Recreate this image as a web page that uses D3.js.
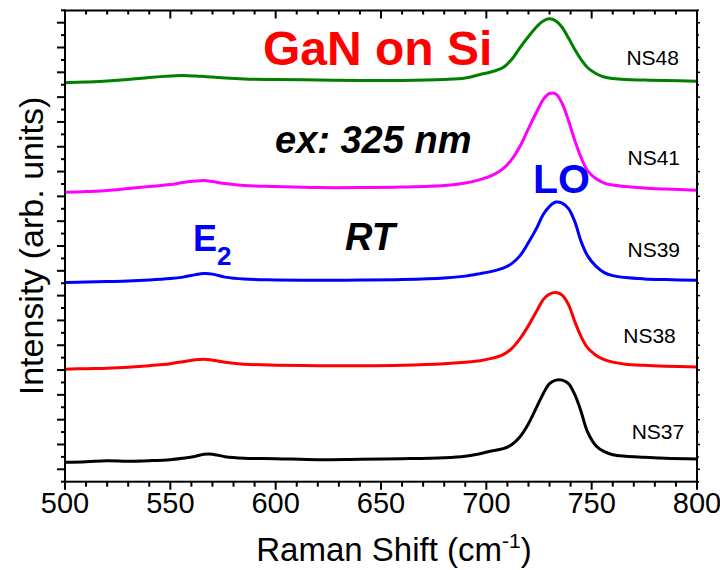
<!DOCTYPE html>
<html>
<head>
<meta charset="utf-8">
<script src="https://cdn.jsdelivr.net/npm/d3@7"></script>
<style>
  html, body { margin: 0; padding: 0; background: #fff; }
  svg { display: block; font-family: Arial, "Liberation Sans", sans-serif; }
</style>
</head>
<body>
<svg id="chart" width="720" height="570"></svg>
<script>
// Raman shift sampling grid (cm^-1)
const ramanShift = [500, 510, 520, 530, 540, 550, 556, 562, 566, 570, 576, 585, 600, 620, 640, 660, 680, 690, 697, 703,
                    708, 712, 716, 720, 724, 727, 730, 733, 736, 739, 742, 745, 748, 752, 756, 760, 766, 775, 785, 800];

// Offset-stacked intensities (arb. units), one array per sample
const ns48 = [398.7, 399.5, 400.5, 402, 404, 405.5, 406, 405.5, 405, 404.5, 403.5, 402.5, 402, 401.5, 401, 401, 402, 403.5, 407, 410,
              414, 422, 434, 445, 455, 460.5, 462.7, 460.5, 454, 443.5, 432, 422, 414, 408, 404.5, 403, 402, 401.5, 401, 400.3];
const ns41 = [289.3, 290, 291, 293, 295, 297, 299, 300.5, 301, 300, 298, 296, 295, 294, 294, 294.5, 296, 298.5, 302, 306.5,
              313, 322, 335.3, 353, 370, 382, 388, 387.5, 378, 361, 341, 324, 311, 303, 298.5, 296.5, 295, 293.5, 292.5, 291.3];
const ns39 = [199, 199.5, 200, 200.5, 201.5, 203, 204.5, 207, 208, 207.5, 204.5, 202.5, 201.7, 201.3, 201.5, 202, 203.5, 205.5, 208, 210.5,
              213.5, 218, 226, 239, 254, 267, 275.3, 279.5, 278.5, 273, 260, 240, 226, 215.5, 209, 206, 204, 202.7, 202, 201.3];
const ns38 = [112.5, 113, 113.5, 114.5, 116, 118, 120, 122, 122.5, 121.5, 119.5, 117.5, 116.5, 116, 116, 116.5, 118, 119.5, 121, 123.5,
              127, 133, 143, 156, 171, 182, 187.5, 189, 186.5, 177, 160, 145, 134, 126.5, 122, 119.5, 117.5, 116.3, 115.5, 114.7];
const ns37 = [19.5, 20, 21, 20.5, 21, 22, 23.5, 25.5, 27.5, 27.5, 25, 23.5, 23, 22, 22.5, 23, 24, 25.5, 28, 31,
              33, 37, 45, 58, 75, 88, 98, 101.5, 101.5, 98, 87, 70, 50, 36, 30, 27, 25.5, 24.5, 23.5, 22.7];

const sampleNames = ["NS48", "NS41", "NS39", "NS38", "NS37"];
const sampleSeries = [ns48, ns41, ns39, ns38, ns37];
const sampleColors = ["#007f00", "#ff00ff", "#0000ff", "#ff0000", "#000000"];
// Label anchor per sample: [Raman shift, intensity]
const labelPos = [[766.5, 417], [767, 317], [767, 225], [765, 139], [769, 43]];

const xTickValues = [500, 550, 600, 650, 700, 750, 800];

const svg = d3.select("#chart");
const margin = { left: 65, right: 23, top: 10.5, bottom: 88.3 };
const W = 720, H = 570;
const x = d3.scaleLinear().domain([500, 800]).range([margin.left, W - margin.right]);
const y = d3.scaleLinear().domain([0, 471]).range([H - margin.bottom, margin.top]);

const x0 = x.range()[0], x1 = x.range()[1];
const yB = y.range()[0], yT = y.range()[1];

// y ticks (no labels): alternating major / minor
const yMinor = d3.range(0, 472, 12.4);

const g = svg.append("g");

// bottom axis: major 50, minor 10
const xMinor = d3.range(500, 801, 10);
g.append("g").selectAll("line").data(xMinor).join("line")
  .attr("x1", d => x(d)).attr("x2", d => x(d))
  .attr("y1", yB).attr("y2", d => yB + (d % 50 === 0 ? 8 : 5))
  .attr("stroke", "#000").attr("stroke-width", 2);
// top axis: inward
g.append("g").selectAll("line").data(xMinor).join("line")
  .attr("x1", d => x(d)).attr("x2", d => x(d))
  .attr("y1", yT).attr("y2", d => yT + (d % 50 === 0 ? 8 : 4))
  .attr("stroke", "#000").attr("stroke-width", 2);
// left axis: outward
g.append("g").selectAll("line").data(yMinor).join("line")
  .attr("y1", d => y(d)).attr("y2", d => y(d))
  .attr("x1", x0).attr("x2", (d, i) => x0 - (i % 2 === 1 ? 8 : 4))
  .attr("stroke", "#000").attr("stroke-width", 2);
// right axis: small outward ticks
g.append("g").selectAll("line").data(yMinor).join("line")
  .attr("y1", d => y(d)).attr("y2", d => y(d))
  .attr("x1", x1).attr("x2", (d, i) => x1 + (i % 2 === 1 ? 3 : 2))
  .attr("stroke", "#000").attr("stroke-width", 1.5);

// x tick labels
g.append("g").selectAll("text").data(xTickValues).join("text")
  .attr("x", d => x(d)).attr("y", 513)
  .attr("text-anchor", "middle")
  .attr("font-size", 29)
  .text(d => d);

// spectra
const line = d3.line()
  .x((d, i) => x(ramanShift[i]))
  .y(d => y(d))
  .curve(d3.curveCatmullRom.alpha(0.5));

sampleSeries.forEach((s, k) => {
  svg.append("path")
    .attr("d", line(s))
    .attr("fill", "none")
    .attr("stroke", sampleColors[k])
    .attr("stroke-width", 3)
    .attr("stroke-linejoin", "round");
});

// frame
svg.append("rect")
  .attr("x", x0).attr("y", yT)
  .attr("width", x1 - x0).attr("height", yB - yT)
  .attr("fill", "none").attr("stroke", "#000").attr("stroke-width", 2);

// sample labels
svg.append("g").selectAll("text").data(sampleNames).join("text")
  .attr("x", (d, i) => x(labelPos[i][0]))
  .attr("y", (d, i) => y(labelPos[i][1]))
  .attr("font-size", 21)
  .text(d => d);

// annotations
svg.append("text").attr("x", 263).attr("y", 65)
  .attr("font-size", 48).attr("font-weight", "bold").attr("fill", "#ff0000")
  .text("GaN on Si");
svg.append("text").attr("x", 275).attr("y", 153)
  .attr("font-size", 38).attr("font-weight", "bold").attr("font-style", "italic")
  .text("ex: 325 nm");
svg.append("text").attr("x", 345).attr("y", 250)
  .attr("font-size", 38).attr("font-weight", "bold").attr("font-style", "italic")
  .text("RT");
const e2 = svg.append("text").attr("x", 193).attr("y", 251)
  .attr("font-size", 36).attr("font-weight", "bold").attr("fill", "#0000ff");
e2.append("tspan").text("E");
e2.append("tspan").attr("dy", 14).attr("font-size", 26).text("2");
svg.append("text").attr("x", 533).attr("y", 193)
  .attr("font-size", 41).attr("font-weight", "bold").attr("fill", "#0000ff")
  .text("LO");

// axis titles
const xt = svg.append("text").attr("x", 394).attr("y", 561)
  .attr("text-anchor", "middle").attr("font-size", 33);
xt.append("tspan").text("Raman Shift (cm");
xt.append("tspan").attr("dy", -13).attr("font-size", 21).text("-1");
xt.append("tspan").attr("dy", 13).text(")");

svg.append("text")
  .attr("transform", "translate(43,246) rotate(-90)")
  .attr("text-anchor", "middle").attr("font-size", 34)
  .text("Intensity (arb. units)");
</script>
</body>
</html>
